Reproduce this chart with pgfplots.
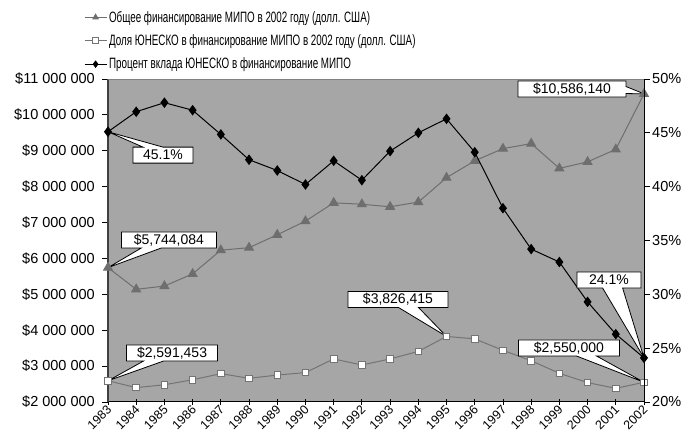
\documentclass[border=0pt]{standalone}
\usepackage{fontspec}
\setmainfont{Liberation Sans}
\newfontfamily\narrowfont{Liberation Sans}[FakeStretch=0.655]
\usepackage{pgfplots}
\usepackage{pgfplotstable}
\pgfplotsset{compat=1.18}
\usetikzlibrary{shapes.callouts}

\definecolor{plotbg}{HTML}{A6A6A6}
\definecolor{trigray}{HTML}{6E6E6E}
\definecolor{sqgray}{HTML}{747474}
\definecolor{leftline}{HTML}{404040}

\pgfplotstableread{
year total share pct
1983 5744084 2591453 45.1
1984 5140000 2400000 46.96
1985 5230000 2480000 47.8
1986 5570000 2620000 47.1
1987 6230000 2790000 44.85
1988 6300000 2660000 42.5
1989 6660000 2750000 41.5
1990 7040000 2820000 40.2
1991 7550000 3200000 42.4
1992 7510000 3030000 40.6
1993 7440000 3200000 43.3
1994 7570000 3410000 45.0
1995 8250000 3826415 46.3
1996 8720000 3760000 43.2
1997 9060000 3440000 38.0
1998 9200000 3150000 34.2
1999 8510000 2800000 33.0
2000 8690000 2540000 29.3
2001 9040000 2380000 26.3
2002 10586140 2550000 24.1
}\data

\tikzset{
  cbox/.style={rectangle callout, draw=black, line width=0.8pt, fill=white,
    inner sep=0pt, minimum height=16pt, callout pointer width=20pt,
    font=\fontsize{14}{14}\selectfont},
}

\pgfplotsset{
  common/.style={
    at={(0,0)}, anchor=south west, scale only axis,
    width=536pt, height=323pt,
    xmin=1983, xmax=2002, clip=false,
    tick style={black, line width=0.8pt},
    major tick length=6pt,
    scaled y ticks=false,
  },
  tri/.style={trigray, line width=1pt, mark=triangle*, mark size=5pt,
    mark options={fill=trigray, draw=trigray, solid}},
  sq/.style={sqgray, line width=1pt, mark=square*, mark size=3.3pt,
    mark options={fill=white, draw=sqgray, line width=0.9pt, solid}},
  dia/.style={black, line width=1pt, mark=diamond*, mark size=4.5pt,
    mark options={fill=black, draw=black, solid}},
}

\begin{document}
\begin{tikzpicture}
\begin{axis}[common,
  axis background/.style={fill=plotbg},
  axis x line*=bottom, axis y line*=left,
  x axis line style={black, line width=1pt},
  y axis line style={leftline, line width=2pt},
  ymin=2000000, ymax=11000000,
  xtick={1983,...,2002},
  xticklabels={1983,1984,1985,1986,1987,1988,1989,1990,1991,1992,1993,1994,1995,1996,1997,1998,1999,2000,2001,2002},
  x tick style={black, line width=0.8pt},
  xtick align=center,
  ytick align=outside,
  xticklabel style={rotate=45, anchor=east, inner sep=1pt, font=\fontsize{12.5}{12.5}\selectfont, yshift=-3pt},
  ytick={2000000,3000000,4000000,5000000,6000000,7000000,8000000,9000000,10000000,11000000},
  yticklabels={\$2 000 000,\$3 000 000,\$4 000 000,\$5 000 000,\$6 000 000,\$7 000 000,\$8 000 000,\$9 000 000,\$10 000 000,\$11 000 000},
  yticklabel style={font=\fontsize{14.5}{14.5}\selectfont, inner sep=2pt, xshift=-5pt},
]
\draw[gray, line width=0.8pt] (rel axis cs:0,1) -- (rel axis cs:1,1);
\addplot[tri] table[x=year,y=total]{\data};
\addplot[sq] table[x=year,y=share]{\data};
\node[cbox, minimum width=95pt, callout absolute pointer={(axis cs:1983,5744084)}] at (axis cs:1985.16,6514000) {\$5,744,084};
\node[cbox, minimum width=91pt, callout absolute pointer={(axis cs:1983,2591453)}] at (axis cs:1985.27,3365000) {\$2,591,453};
\node[cbox, minimum width=100pt, callout absolute pointer={(axis cs:1995,3826415)}] at (axis cs:1993.28,4856000) {\$3,826,415};
\node[cbox, minimum width=101pt, callout absolute pointer={(axis cs:2002,2550000)}] at (axis cs:1999.34,3505000) {\$2,550,000};
\node[cbox, minimum width=108pt, callout pointer width=7pt, callout absolute pointer={(axis cs:2002,10586140)}] at (axis cs:1999.45,10720000) {\$10,586,140};
\end{axis}
\begin{axis}[common,
  axis x line=none, axis y line*=right,
  y axis line style={black, line width=1pt},
  ymin=20, ymax=50,
  ytick={20,25,30,35,40,45,50},
  yticklabels={20\%,25\%,30\%,35\%,40\%,45\%,50\%},
  ytick align=outside,
  yticklabel style={font=\fontsize{14.5}{14.5}\selectfont, inner sep=2pt},
  legend style={at={(axis description cs:-0.045,1.217)}, anchor=north west,
    draw=none, fill=none, inner sep=0pt, row sep=7pt,
    font=\narrowfont\fontsize{15}{15}\selectfont},
  legend cell align=left,
  legend image code/.code={\draw[mark repeat=2, mark phase=2, #1, mark size=3pt] plot coordinates {(0pt,0pt) (11pt,0pt) (22pt,0pt)};},
]
\addlegendimage{tri}
\addlegendentry{Общее финансирование МИПО в 2002 году (долл. США)}
\addlegendimage{sq}
\addlegendentry{Доля ЮНЕСКО в финансирование МИПО в 2002 году (долл. США)}
\addplot[dia] table[x=year,y=pct]{\data};
\addlegendentry{Процент вклада ЮНЕСКО в финансирование МИПО}
\node[cbox, minimum width=60pt, callout absolute pointer={(axis cs:1983,45.1)}] at (axis cs:1984.95,42.93) {45.1\%};
\node[cbox, minimum width=64pt, callout absolute pointer={(axis cs:2002,24.1)}] at (axis cs:2000.76,31.33) {24.1\%};
\end{axis}
\pgfresetboundingbox
\path[use as bounding box] (-108pt,-33pt) rectangle (577pt,402pt);
\end{tikzpicture}
\end{document}
